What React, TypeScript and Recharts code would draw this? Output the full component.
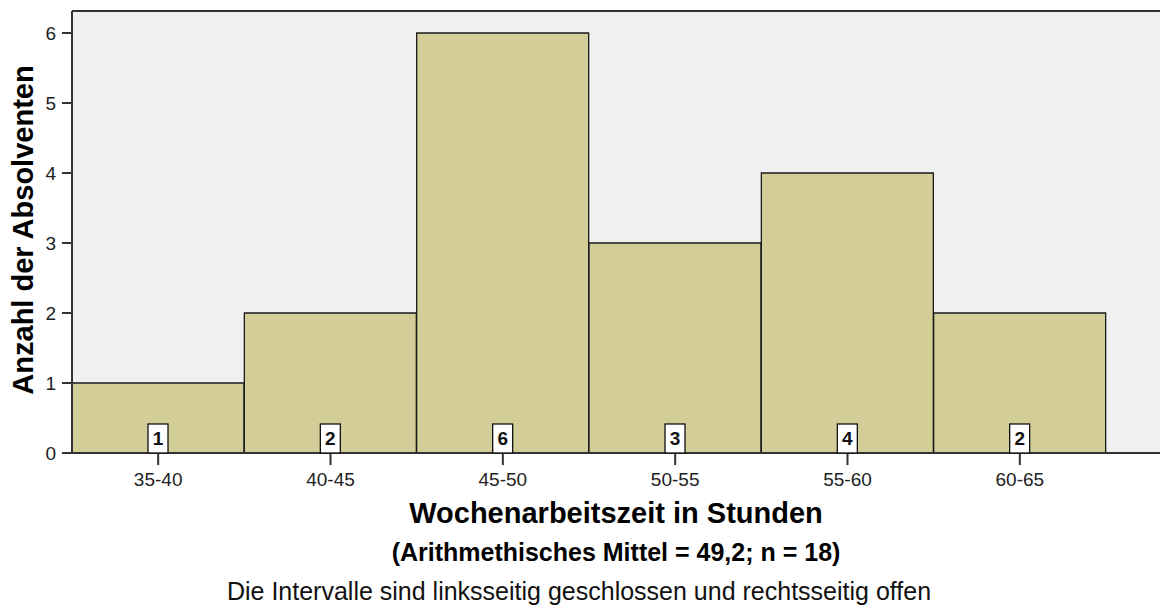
import { BarChart, Bar, XAxis, YAxis, CartesianGrid, ReferenceLine, LabelList } from "recharts";

const bins = ["35-40", "40-45", "45-50", "50-55", "55-60", "60-65"];
const counts = [1, 2, 6, 3, 4, 2];
const yTicks = [0, 1, 2, 3, 4, 5, 6];
const yMax = 6.314;

const xTitle = "Wochenarbeitszeit in Stunden";
const xSubtitle = "(Arithmethisches Mittel = 49,2; n = 18)";
const footnote = "Die Intervalle sind linksseitig geschlossen und rechtsseitig offen";
const yTitle = "Anzahl der Absolventen";

const data = bins.map((bin, i) => ({ bin, count: counts[i] }));

const FONT = "'Liberation Sans', Arial, sans-serif";
const AXIS = "#333";

function CountBox(props: any) {
  const { x, y, width, height, value } = props;
  const cx = Number(x) + Number(width) / 2;
  const bottom = Number(y) + Number(height);
  return (
    <g>
      <rect x={cx - 10} y={bottom - 29} width={20} height={29} fill="#fff" stroke="#111" strokeWidth={1.3} />
      <text x={cx} y={bottom - 8} textAnchor="middle" fontFamily={FONT} fontWeight="bold" fontSize={19} fill="#111">
        {value}
      </text>
    </g>
  );
}

export default function App() {
  return (
    <div style={{ position: "absolute", left: 0, top: 0, width: 1160, height: 610, overflow: "hidden", background: "#fff" }}>
      <BarChart
        width={1170}
        height={610}
        data={data}
        margin={{ top: 11, right: 0, bottom: 127, left: 0 }}
        barCategoryGap={0}
      >
        <CartesianGrid fill="#f0f0f0" horizontal={false} vertical={false} />
        <ReferenceLine y={yMax} stroke={AXIS} strokeWidth={2} />
        <XAxis
          dataKey="bin"
          padding={{ left: 0, right: 64 }}
          height={30}
          tickSize={12}
          tickMargin={8}
          axisLine={{ stroke: AXIS, strokeWidth: 2 }}
          tickLine={{ stroke: AXIS, strokeWidth: 2 }}
          tick={{ fontSize: 19, fill: "#222", fontFamily: FONT }}
          interval={0}
        />
        <YAxis
          width={72}
          domain={[0, yMax]}
          ticks={yTicks}
          allowDataOverflow
          tickSize={10}
          tickMargin={6}
          axisLine={{ stroke: AXIS, strokeWidth: 2 }}
          tickLine={{ stroke: AXIS, strokeWidth: 2 }}
          tick={{ fontSize: 19, fill: "#222", fontFamily: FONT }}
        />
        <Bar dataKey="count" fill="#d3ce97" stroke="#1a1a1a" strokeWidth={1.3} isAnimationActive={false}>
          <LabelList dataKey="count" content={CountBox} />
        </Bar>
        <text x={616} y={523} textAnchor="middle" fontFamily={FONT} fontWeight="bold" fontSize={29} fill="#000">
          {xTitle}
        </text>
        <text x={616} y={561} textAnchor="middle" fontFamily={FONT} fontWeight="bold" fontSize={25} fill="#000">
          {xSubtitle}
        </text>
        <text x={579} y={600} textAnchor="middle" fontFamily={FONT} fontSize={25} fill="#111">
          {footnote}
        </text>
        <text
          x={33}
          y={230}
          transform="rotate(-90 33 230)"
          textAnchor="middle"
          fontFamily={FONT}
          fontWeight="bold"
          fontSize={29}
          fill="#000"
        >
          {yTitle}
        </text>
      </BarChart>
    </div>
  );
}
